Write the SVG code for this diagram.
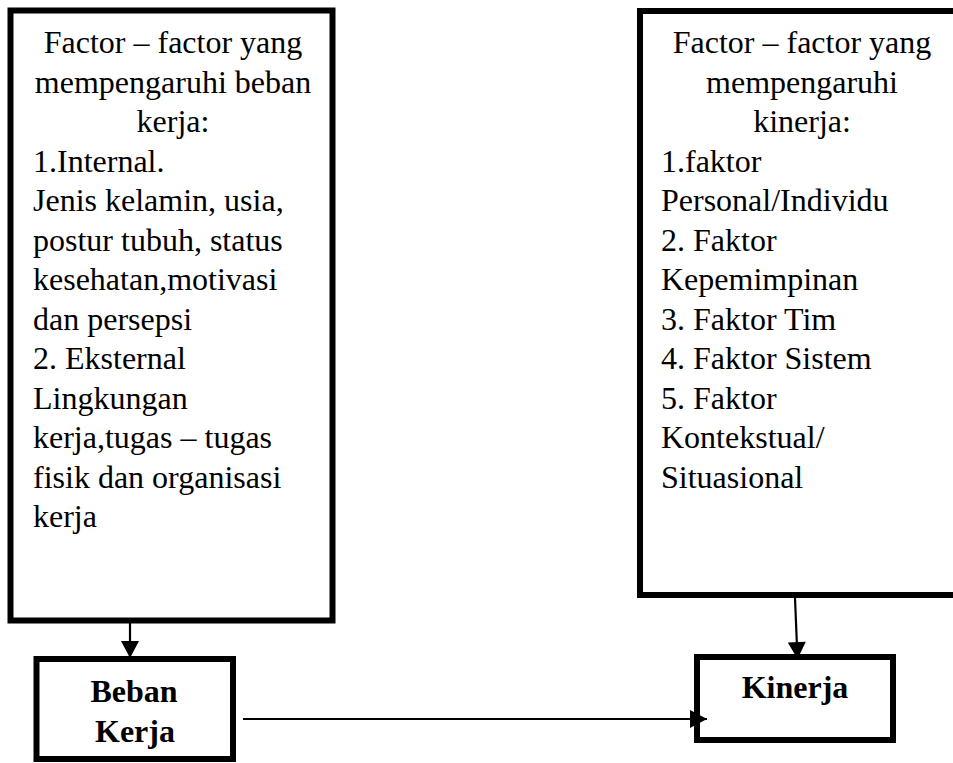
<svg xmlns="http://www.w3.org/2000/svg" width="953" height="763" viewBox="0 0 953 763">
  <style>
    .box { fill: #ffffff; stroke: #000000; stroke-width: 6; }
    .t { font-family: "Liberation Serif", "Times New Roman", serif; font-size: 32px; fill: #000000; }
    .c { text-anchor: middle; }
    .b { font-weight: bold; }
    .conn { stroke: #000000; stroke-width: 2.2; fill: none; }
  </style>
  <defs>
    <marker id="arrow" markerUnits="userSpaceOnUse" markerWidth="20" markerHeight="20" refX="17" refY="9" orient="auto" overflow="visible">
      <path d="M0,0 L17,9 L0,18 Z" fill="#000000"/>
    </marker>
  </defs>
  <rect width="953" height="763" fill="#ffffff"/>

  <g id="faktor-beban-kerja">
    <rect class="box" x="10.5" y="10.5" width="322" height="610"/>
    <text class="t c" x="173" y="53">Factor – factor yang</text>
    <text class="t c" x="173" y="92.5">mempengaruhi beban</text>
    <text class="t c" x="173" y="132">kerja:</text>
    <text class="t" x="33" y="171.5">1.Internal.</text>
    <text class="t" x="33" y="211">Jenis kelamin, usia,</text>
    <text class="t" x="33" y="250.5">postur tubuh, status</text>
    <text class="t" x="33" y="290">kesehatan,motivasi</text>
    <text class="t" x="33" y="329.5">dan persepsi</text>
    <text class="t" x="33" y="369">2. Eksternal</text>
    <text class="t" x="33" y="408.5">Lingkungan</text>
    <text class="t" x="33" y="448">kerja,tugas – tugas</text>
    <text class="t" x="33" y="487.5">fisik dan organisasi</text>
    <text class="t" x="33" y="527">kerja</text>
  </g>

  <g id="faktor-kinerja">
    <rect class="box" x="640" y="11" width="330" height="584"/>
    <text class="t c" x="802" y="53">Factor – factor yang</text>
    <text class="t c" x="802" y="92.5">mempengaruhi</text>
    <text class="t c" x="802" y="132">kinerja:</text>
    <text class="t" x="661" y="171.5">1.faktor</text>
    <text class="t" x="661" y="211">Personal/Individu</text>
    <text class="t" x="661" y="250.5">2. Faktor</text>
    <text class="t" x="661" y="290">Kepemimpinan</text>
    <text class="t" x="661" y="329.5">3. Faktor Tim</text>
    <text class="t" x="661" y="369">4. Faktor Sistem</text>
    <text class="t" x="661" y="408.5">5. Faktor</text>
    <text class="t" x="661" y="448">Kontekstual/</text>
    <text class="t" x="661" y="487.5">Situasional</text>
  </g>

  <g id="beban-kerja">
    <rect class="box" x="36.5" y="659" width="196.5" height="100"/>
    <text class="t c b" x="134" y="702">Beban</text>
    <text class="t c b" x="135" y="742">Kerja</text>
  </g>

  <g id="kinerja">
    <rect class="box" x="697" y="657" width="196" height="83"/>
    <text class="t c b" x="795" y="698">Kinerja</text>
  </g>

  <g id="connectors">
    <line class="conn" x1="130" y1="623" x2="130" y2="658" marker-end="url(#arrow)"/>
    <line class="conn" x1="795" y1="598" x2="797.5" y2="659" marker-end="url(#arrow)"/>
    <line class="conn" x1="243" y1="719" x2="707" y2="719" marker-end="url(#arrow)"/>
  </g>
</svg>
